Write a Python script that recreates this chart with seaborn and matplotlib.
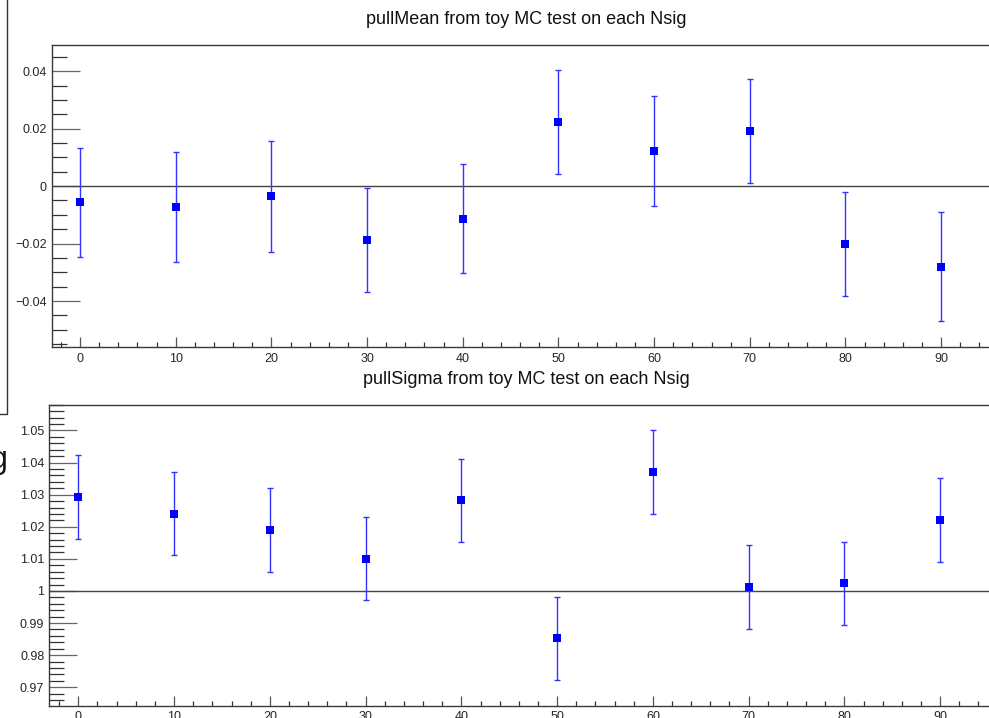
import matplotlib
matplotlib.use("Agg")
import matplotlib.pyplot as plt
from matplotlib.patches import Rectangle
from matplotlib.ticker import MultipleLocator
import numpy as np
import pandas as pd
import seaborn as sns

# Toy MC pull results for each signal yield
nsig = [0, 10, 20, 30, 40, 50, 60, 70, 80, 90]
pull_mean = [-0.0057, -0.0073, -0.0036, -0.0187, -0.0113, 0.0223, 0.0122, 0.0193, -0.0201, -0.0281]
pull_mean_err = [0.0190, 0.0190, 0.0192, 0.0181, 0.0191, 0.0181, 0.0190, 0.0181, 0.0182, 0.0190]
pull_sigma = [1.0293, 1.0241, 1.0190, 1.0100, 1.0282, 0.9852, 1.0371, 1.0012, 1.0024, 1.0221]
pull_sigma_err = [0.0130, 0.0130, 0.0130, 0.0129, 0.0130, 0.0130, 0.0130, 0.0130, 0.0130, 0.0130]

mean_ticks = [-0.04, -0.02, 0.0, 0.02, 0.04]
mean_tick_labels = ["\u22120.04", "\u22120.02", "0", "0.02", "0.04"]
sigma_ticks = [0.97, 0.98, 0.99, 1.00, 1.01, 1.02, 1.03, 1.04, 1.05]
sigma_tick_labels = ["0.97", "0.98", "0.99", "1", "1.01", "1.02", "1.03", "1.04", "1.05"]
x_ticks = [0, 10, 20, 30, 40, 50, 60, 70, 80, 90]

title_mean = "pullMean from toy MC test on each Nsig"
title_sigma = "pullSigma from toy MC test on each Nsig"

sns.set_theme(style="white")
plt.rcParams["font.family"] = ["Liberation Sans", "DejaVu Sans"]

W, H = 989, 718
fig = plt.figure(figsize=(W / 100, H / 100), dpi=100)
fig.patch.set_facecolor("white")


def px_axes(left, top, right, bottom):
    return fig.add_axes([left / W, 1 - bottom / H, (right - left) / W, (bottom - top) / H])


ax1 = px_axes(51.7, 45, 989, 347)
ax2 = px_axes(49.3, 404.5, 989, 705.5)

df_mean = pd.DataFrame({"nsig": nsig, "val": pull_mean, "err": pull_mean_err})
df_sigma = pd.DataFrame({"nsig": nsig, "val": pull_sigma, "err": pull_sigma_err})

spine_col = "#3a3a3a"


def draw_panel(ax, df, ref, ylim, xlim, yticks, ylabels, yminor):
    ax.axhline(ref, color="#444444", lw=1.0, zorder=1)
    ax.errorbar(df["nsig"], df["val"], yerr=df["err"], fmt="none",
                ecolor=(0.2, 0.2, 1.0), elinewidth=1.0, capsize=2.2, capthick=1.0, zorder=2)
    sns.scatterplot(data=df, x="nsig", y="val", ax=ax, marker="s", s=32,
                    color="#0000ff", edgecolor="#0000ff", linewidth=0, zorder=3, legend=False)
    ax.set_xlim(*xlim)
    ax.set_ylim(*ylim)
    ax.set_xlabel("")
    ax.set_ylabel("")
    ax.set_xticks(x_ticks)
    ax.set_xticklabels([str(t) for t in x_ticks])
    ax.xaxis.set_minor_locator(MultipleLocator(2))
    ax.set_yticks(yticks)
    ax.set_yticklabels(ylabels)
    ax.yaxis.set_minor_locator(MultipleLocator(yminor))
    ax.tick_params(axis="x", which="major", direction="in", length=7.2, width=0.9,
                   color="#555555", labelsize=9, pad=4, bottom=True, top=False)
    ax.tick_params(axis="x", which="minor", direction="in", length=3.4, width=0.9,
                   color="#333333", bottom=True, top=False)
    ax.tick_params(axis="y", which="major", direction="in", length=20.2, width=0.9,
                   color="#666666", labelsize=9, pad=3.6, left=True, right=False)
    ax.tick_params(axis="y", which="minor", direction="in", length=10.8, width=0.9,
                   color="#333333", left=True, right=False)
    for side in ("left", "bottom", "top"):
        ax.spines[side].set_visible(True)
        ax.spines[side].set_color(spine_col)
        ax.spines[side].set_linewidth(1.0)
    ax.spines["right"].set_visible(False)
    ax.set_facecolor("white")


draw_panel(ax1, df_mean, 0.0, (-0.0560, 0.0491), (-2.96, 95.0),
           mean_ticks, mean_tick_labels, 0.005)
draw_panel(ax2, df_sigma, 1.0, (0.9643, 1.0581), (-3.03, 95.1),
           sigma_ticks, sigma_tick_labels, 0.002)

fig.text(526 / W, 1 - 20 / H, title_mean, ha="center", va="center", fontsize=13, color="#111111")
fig.text(526 / W, 1 - 380 / H, title_sigma, ha="center", va="center", fontsize=13, color="#111111")

# Frame of a neighbouring pad on the far left edge
fig.add_artist(Rectangle((-20 / W, 1 - 414 / H), 27 / W, 430 / H, transform=fig.transFigure,
                         fill=False, edgecolor="#333333", lw=1.0))
# Axis title of a neighbouring pad, mostly beyond the left edge
fig.text(8.5 / W, 1 - 468 / H, "Nsig", ha="right", va="baseline", fontsize=22, color="#111111")

fig.savefig("out.png", dpi=100)
